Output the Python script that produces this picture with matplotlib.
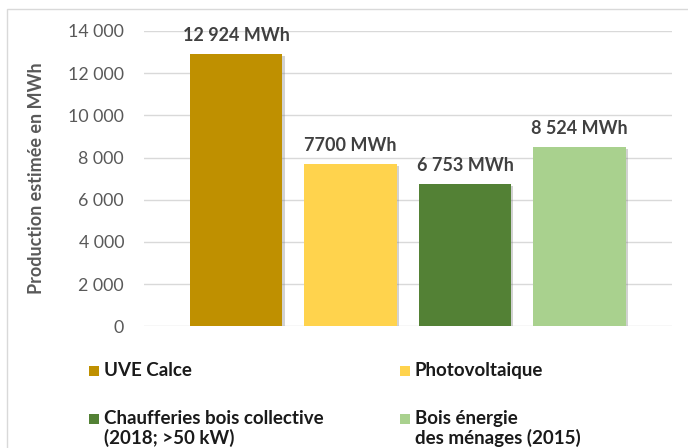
import matplotlib.pyplot as plt
import matplotlib.patches as mpatches
import matplotlib.patheffects as pe

plt.rcParams['font.family'] = ['Lato', 'DejaVu Sans']

categories = ["UVE Calce", "Photovoltaique",
              "Chaufferies bois collective\n(2018; >50 kW)",
              "Bois énergie\ndes ménages (2015)"]
values = [12924, 7700, 6753, 8524]
value_labels = ["12 924 MWh", "7700 MWh", "6 753 MWh", "8 524 MWh"]
colors = ["#bf9000", "#ffd34d", "#538135", "#a9d18e"]
yticks = [0, 2000, 4000, 6000, 8000, 10000, 12000, 14000]
ytick_labels = ["0", "2 000", "4 000", "6 000", "8 000", "10 000", "12 000", "14 000"]

W, H = 688, 448
fig = plt.figure(figsize=(6.88, 4.48), dpi=100)

# outer frame (only left and top visible in the reference)
fig.add_artist(mpatches.Rectangle((7 / W, -0.1), 1.2, 1 - 9 / H + 0.1,
                                  transform=fig.transFigure, fill=False,
                                  edgecolor="#d9d9d9", linewidth=1))

ax = fig.add_axes([143.5 / W, 1 - 326.3 / H, (672 - 143.5) / W, (326.3 - 31) / H])

x = range(len(values))
bars = ax.bar(x, values, width=0.81, color=colors, zorder=3)
for b in bars:
    b.set_path_effects([pe.SimplePatchShadow(offset=(1.5, -1.5), shadow_rgbFace="#808080", alpha=0.35),
                        pe.Normal()])

ax.bar_label(bars, labels=value_labels, padding=7, fontsize=13, fontweight="bold",
             color="#404040")

ax.set_xlim(-0.81, 3.81)
ax.set_ylim(0, 14000)
ax.set_yticks(yticks)
ax.set_yticklabels(ytick_labels, fontsize=12.8, color="#595959")
ax.set_xticks([])
ax.tick_params(axis="y", length=0, pad=14)
ax.yaxis.grid(True, color="#d9d9d9", linewidth=1, zorder=0)
ax.set_axisbelow(True)
for s in ax.spines.values():
    s.set_visible(False)

ax.set_ylabel("Production estimée en MWh", fontsize=13, fontweight="bold", color="#595959")
ax.yaxis.set_label_coords((45 - 143.5) / (672 - 143.5), 0.5)

# legend drawn as squares + text, two columns
legend_pos = [(89, 371), (400, 371), (89, 419), (400, 419)]
for (lx, ly), lab, c in zip(legend_pos, categories, colors):
    fig.add_artist(mpatches.Rectangle((lx / W, 1 - (ly + 5) / H), 10 / W, 10 / H,
                                      transform=fig.transFigure, color=c, linewidth=0))
    fig.text((lx + 15) / W, 1 - (ly - 9) / H, lab, fontsize=13.5, fontweight="bold",
             color="#1a1a1a", va="top", ha="left", linespacing=1.1)

fig.savefig("out.png", dpi=100)
